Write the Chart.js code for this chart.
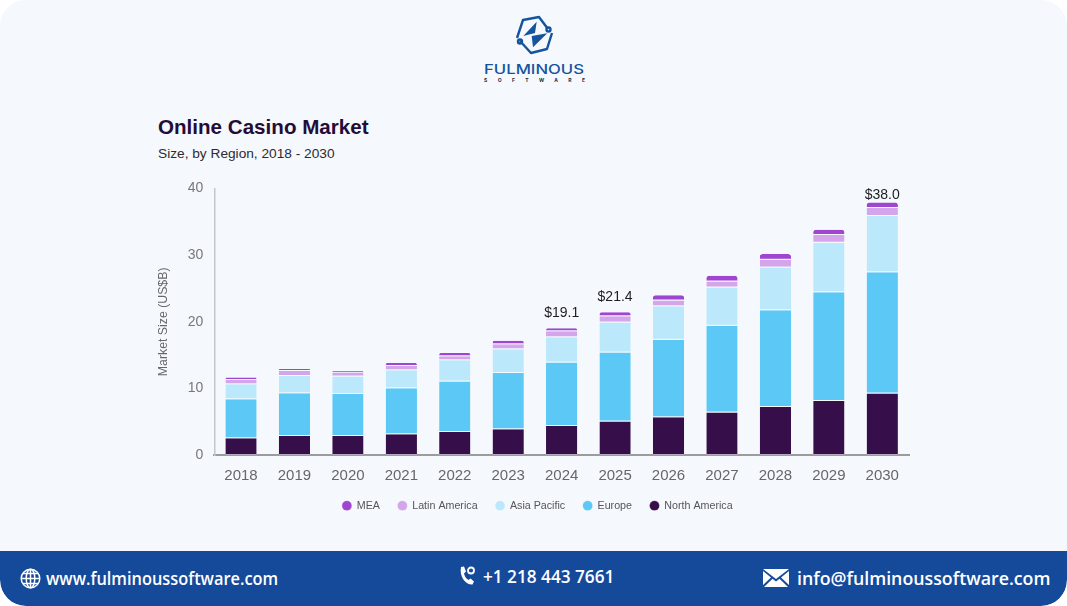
<!DOCTYPE html>
<html>
<head>
<meta charset="utf-8">
<title>Online Casino Market</title>
<script src="https://cdn.jsdelivr.net/npm/chart.js"></script>
<style>
  html, body { margin: 0; padding: 0; background: #fff; }
  #page { position: relative; width: 1067px; height: 606px; overflow: hidden; background: #f5f9fd; border-radius: 26px; }
  #logo { position: absolute; left: 0; top: 0; }
  h1, h2 { position: absolute; left: 158px; margin: 0; font-family: "Liberation Sans", sans-serif; white-space: nowrap; }
  h1 { top: 115px; font-size: 20.6px; font-weight: 700; color: #240c38; }
  h2 { top: 146px; font-size: 13.7px; font-weight: 400; color: #2b2b33; }
  #chartBox { position: absolute; left: 150px; top: 169px; width: 775px; height: 352px; }
  #footer { position: absolute; left: 0; top: 551px; width: 1067px; height: 55px; background: #154a9b; border-radius: 0 0 26px 26px; }
  #footer span { position: absolute; top: 15px; color: #fff; font: 600 17.8px "Open Sans", sans-serif; line-height: 24px; white-space: nowrap; transform-origin: left center; }
  #footer svg { position: absolute; }
</style>
</head>
<body>
<div id="page">
  <svg id="logo" width="1067" height="100">
    <g fill="none" stroke="#15539f" stroke-width="2.4" stroke-linejoin="round">
      <path d="M548 29 L539 17 L523 20 L517 38"/>
      <path d="M520 41 L531 53 L547 49 L552 33"/>
      <circle cx="548.5" cy="29.5" r="2"/>
      <circle cx="520" cy="41.5" r="2"/>
    </g>
    <path fill="#15539f" d="M536.7 21.7 L523.3 36 L535 33 Z M533 47.3 L547.3 33.3 L531.7 36 Z"/>
    <text x="484" y="73.5" textLength="100" lengthAdjust="spacingAndGlyphs" font-family="Inter" font-size="13" font-weight="500" fill="#15539f">FULMINOUS</text>
    <text x="484" y="81.5" textLength="101" font-family="Inter" font-size="5" font-weight="700" fill="#2a2a33">SOFTWARE</text>
  </svg>

  <h1>Online Casino Market</h1>
  <h2>Size, by Region, 2018 - 2030</h2>

  <div id="chartBox"><canvas id="marketChart"></canvas></div>

  <div id="footer">
    <svg style="left:20px;top:17px" width="21" height="21" viewBox="0 0 21 21" fill="none" stroke="#fff" stroke-width="1.5">
      <circle cx="10.5" cy="10.5" r="9.3"/>
      <ellipse cx="10.5" cy="10.5" rx="4.3" ry="9.3"/>
      <path d="M10.5 1 V20 M1.2 10.5 H19.8 M2.6 5.6 H18.4 M2.6 15.4 H18.4"/>
    </svg>
    <span style="left:46px;transform:scaleX(0.92)">www.fulminoussoftware.com</span>
    <svg style="left:458px;top:15px" width="18" height="20" viewBox="0 0 18 20">
      <path fill="#fff" d="M3 1 L6 0.5 L8 5.5 L6 7.5 C6.5 10 8 12.5 10.5 14 L12.5 12.5 L16 15.5 L14.5 18.5 C8 19 1 11 3 1 Z"/>
      <circle cx="13" cy="4.5" r="3" fill="none" stroke="#fff" stroke-width="1.8"/>
    </svg>
    <span style="left:483px;top:14px;font-size:17.2px">+1 218 443 7661</span>
    <svg style="left:763px;top:18px" width="26" height="18" viewBox="0 0 26 18">
      <path fill="#fff" d="M0 0 H26 L13 10 Z M0 2 L8 8.5 L0 16 Z M26 2 L18 8.5 L26 16 Z M9.5 9.7 L13 12.5 L16.5 9.7 L25 18 H1 Z"/>
    </svg>
    <span style="left:797px">info@fulminoussoftware.com</span>
  </div>
</div>

<script>
const YEARS = ['2018','2019','2020','2021','2022','2023','2024','2025','2026','2027','2028','2029','2030'];
const NORTH_AMERICA = [2.55, 2.9, 2.9, 3.15, 3.5, 3.9, 4.4, 5.05, 5.7, 6.4, 7.25, 8.15, 9.25];
const EUROPE        = [5.85, 6.4, 6.3, 6.9, 7.55, 8.45, 9.5, 10.35, 11.6, 13.0, 14.5, 16.3, 18.2];
const ASIA_PACIFIC  = [2.25, 2.6, 2.6, 2.7, 3.2, 3.55, 3.8, 4.5, 5.05, 5.75, 6.4, 7.4, 8.4];
const LATIN_AMERICA = [0.65, 0.75, 0.6, 0.65, 0.6, 0.75, 0.9, 0.95, 0.85, 0.9, 1.15, 1.15, 1.2];
const MEA           = [0.35, 0.3, 0.25, 0.45, 0.5, 0.5, 0.45, 0.6, 0.8, 0.85, 0.85, 0.8, 0.85];
const TOTAL_LABELS  = [null, null, null, null, null, null, '$19.1', '$21.4', null, null, null, null, '$38.0'];

const BG = '#f5f9fd';
const FONT = '"Liberation Sans", sans-serif';

function series(label, data, color, radius) {
  return {
    label, data,
    backgroundColor: color,
    borderColor: BG,
    borderWidth: { bottom: 1 },
    borderRadius: radius ? { topLeft: 3, topRight: 3 } : 0,
    borderSkipped: false,
    barPercentage: 0.585,
    categoryPercentage: 1
  };
}

// totals above the picked years, kept inside the plot at the top
const totalLabels = {
  id: 'totalLabels',
  afterDatasetsDraw(chart) {
    const { ctx, scales, chartArea } = chart;
    ctx.save();
    ctx.font = '14px ' + FONT;
    ctx.fillStyle = '#1d1d22';
    ctx.textAlign = 'center';
    ctx.textBaseline = 'middle';
    TOTAL_LABELS.forEach((txt, i) => {
      if (!txt) return;
      const sum = chart.data.datasets.reduce((a, d) => a + d.data[i], 0);
      const y = Math.max(scales.y.getPixelForValue(sum) - 15, chartArea.top + 7);
      ctx.fillText(txt, scales.x.getPixelForValue(i), y);
    });
    ctx.restore();
  }
};

new Chart(document.getElementById('marketChart'), {
  type: 'bar',
  data: {
    labels: YEARS,
    datasets: [
      series('North America', NORTH_AMERICA, '#360f4a'),
      series('Europe', EUROPE, '#5bc8f5'),
      series('Asia Pacific', ASIA_PACIFIC, '#bce8fb'),
      series('Latin America', LATIN_AMERICA, '#d4a5ea'),
      series('MEA', MEA, '#9f45cf', true)
    ]
  },
  plugins: [totalLabels],
  options: {
    responsive: true,
    maintainAspectRatio: false,
    animation: false,
    // equal side padding so the legend centres where the reference has it
    layout: { padding: { top: 0, right: 16, left: 16, bottom: 0 } },
    plugins: {
      tooltip: { enabled: false },
      legend: {
        position: 'bottom',
        reverse: true,
        labels: {
          usePointStyle: true,
          pointStyle: 'circle',
          boxWidth: 9,
          boxHeight: 7,
          padding: 18,
          color: '#55555c',
          font: { family: FONT, size: 10.7 }
        }
      }
    },
    scales: {
      x: {
        stacked: true,
        afterFit: s => { s.height = 27; },
        grid: { display: false, drawTicks: false },
        border: { color: '#9a9c9e', width: 2 },
        ticks: { color: '#66666b', padding: 12, maxRotation: 0, font: { family: FONT, size: 15 } }
      },
      y: {
        stacked: true,
        min: 0,
        max: 40,
        afterFit: s => { s.width = 48.3; },
        grid: { display: false, drawTicks: false },
        border: { color: '#c3c7ca', width: 1.5 },
        title: { display: true, text: 'Market Size (US$B)', color: '#66666b', padding: { top: -10, bottom: 0 }, font: { family: FONT, size: 12.3 } },
        ticks: { stepSize: 10, color: '#77777c', padding: 11, font: { family: FONT, size: 14 } }
      }
    }
  }
});
</script>
</body>
</html>
